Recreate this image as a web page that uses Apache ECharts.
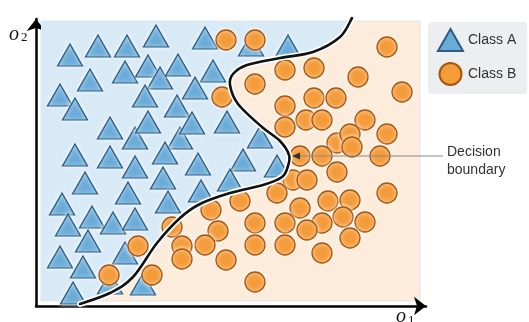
<!DOCTYPE html>
<html><head><meta charset="utf-8">
<script src="https://cdn.jsdelivr.net/npm/echarts/dist/echarts.min.js"></script>
<style>html,body{margin:0;padding:0;background:#fff}#c{width:529px;height:322px}</style>
</head><body><div id="c"></div>
<script>
// Feature-space coordinates (o1, o2)
const classA = [
  [33,250],[61,259],[90,259],[119,269],[168,267],[214,260],[251,259],
  [53,225],[88,233],[111,239],[123,227],[141,240],[176,234],
  [23,210],[38,196],[108,209],[140,199],[158,217],
  [73,177],[98,167],[111,183],[143,167],[155,182],[190,183],[223,168],
  [38,150],[73,148],[98,138],[128,152],[161,141],[206,145],[240,139],
  [48,122],[91,112],[126,127],[193,125],[164,114],
  [25,101],[31,80],[55,88],[76,82],[98,86],[131,103],
  [51,64],[23,48],[88,52],[46,38],[73,22],[106,21],[36,12]
];
const classB = [
  [189,265],[218,265],[350,258],
  [248,235],[277,237],[321,228],[218,221],[365,213],
  [185,208],[277,207],[299,207],[248,199],
  [269,185],[285,185],[328,185],[248,178],[350,171],
  [300,162],[313,171],[315,158],
  [263,149],[285,149],[343,149],
  [300,133],[256,125],[270,125],[350,112],[240,112],
  [203,104],[291,104],[313,105],[263,97],[174,95],
  [306,88],[328,83],[218,82],[248,82],[285,82],[270,75],[181,74],
  [313,67],[168,60],[218,60],[248,60],[285,52],[189,45],[218,23],
  [135,78],[145,59],[145,46],[101,59],[72,30],[115,30]
];
const boundary = [
  [315,287],[303,268],[276,253],[243,247],[210,240],[196,231],[193,220],
  [201,201],[225,178],[243,164],[252,150],[251,139],[245,128],[226,120],
  [193,112],[163,101],[143,87],[120,62],[96,28],[73,12],[43,1]
];
const seriesNames = ['Class A', 'Class B'];
const annotationLine = [[406,149],[255,149]];
const annotationText = 'Decision\nboundary';

const BLUE_BG = '#d9eaf7', ORANGE_BG = '#fdecdb';

function smoothPath(pts) {
  let d = 'M' + pts[0][0] + ' ' + pts[0][1];
  for (let i = 0; i < pts.length - 1; i++) {
    const p0 = pts[i - 1] || pts[i], p1 = pts[i], p2 = pts[i + 1], p3 = pts[i + 2] || pts[i + 1];
    const c1x = p1[0] + (p2[0] - p0[0]) / 6, c1y = p1[1] + (p2[1] - p0[1]) / 6;
    const c2x = p2[0] - (p3[0] - p1[0]) / 6, c2y = p2[1] - (p3[1] - p1[1]) / 6;
    d += ' C' + c1x + ' ' + c1y + ' ' + c2x + ' ' + c2y + ' ' + p2[0] + ' ' + p2[1];
  }
  return d;
}

const chart = echarts.init(document.getElementById('c'), null, {renderer: 'canvas'});
const noAxis = {axisTick:{show:false}, axisLabel:{show:false}, splitLine:{show:false}};
chart.setOption({
  animation: false,
  backgroundColor: '#fff',
  grid: [
    {left: 36, top: 19, right: 103, bottom: 16},
    {left: 41, top: 21, right: 109, bottom: 21, show: true, backgroundColor: ORANGE_BG, borderColor: '#e2e5e8', borderWidth: 1}
  ],
  xAxis: [
    Object.assign({gridIndex: 0, type: 'value', min: 0, max: 1,
      axisLine: {show: true, onZero: false, symbol: ['none', 'arrow'], symbolSize: [14, 12], lineStyle: {color: '#000', width: 2.5}}}, noAxis),
    {gridIndex: 1, type: 'value', min: 4, max: 383, show: false}
  ],
  yAxis: [
    Object.assign({gridIndex: 0, type: 'value', min: 0, max: 1,
      axisLine: {show: true, onZero: false, symbol: ['none', 'arrow'], symbolSize: [14, 12], lineStyle: {color: '#000', width: 2.5}}}, noAxis),
    {gridIndex: 1, type: 'value', min: 4, max: 284, show: false}
  ],
  legend: {
    data: [{name: seriesNames[0], icon: 'triangle'}, {name: seriesNames[1], icon: 'circle'}],
    orient: 'vertical', left: 428, top: 22, itemWidth: 25, itemHeight: 22, itemGap: 10,
    padding: [6, 11, 8, 9], backgroundColor: '#eceef0', borderRadius: 4, selectedMode: false,
    textStyle: {fontSize: 14, color: '#333', fontFamily: 'Liberation Sans'}
  },
  graphic: [
    {type: 'text', left: 447, top: 143, style: {text: annotationText, font: '14px "Liberation Sans"', fill: '#333', lineHeight: 18}},
    {type: 'text', x: 9, y: 35, style: {text: 'o', font: 'italic 20px "Liberation Serif"', fill: '#111', verticalAlign: 'middle'}},
    {type: 'text', x: 21, y: 38, style: {text: '2', font: '13px "Liberation Serif"', fill: '#111', verticalAlign: 'middle'}},
    {type: 'text', x: 396, y: 317, style: {text: 'o', font: 'italic 20px "Liberation Serif"', fill: '#111', verticalAlign: 'middle'}},
    {type: 'text', x: 408, y: 321, style: {text: '1', font: '13px "Liberation Serif"', fill: '#111', verticalAlign: 'middle'}}
  ],
  series: [
    {
      type: 'custom', xAxisIndex: 1, yAxisIndex: 1, clip: true, z: 1, silent: true,
      data: [[0, 0]],
      renderItem: function (params, api) {
        const pts = boundary.map(p => api.coord(p));
        const first = pts[0], last = pts[pts.length - 1];
        let d = smoothPath(pts);
        d += ' L' + last[0] + ' ' + (last[1] + 60) + ' L-60 ' + (last[1] + 60) + ' L-60 ' + (first[1] - 60) + ' L' + first[0] + ' ' + (first[1] - 60) + ' Z';
        return {type: 'path', shape: {pathData: d}, style: {fill: BLUE_BG, stroke: 'none'}};
      }
    },
    {
      name: seriesNames[0], type: 'scatter', xAxisIndex: 1, yAxisIndex: 1, z: 2, clip: false,
      symbol: 'triangle', symbolSize: [25, 22], data: classA,
      itemStyle: {color: '#6aabd8', borderColor: '#2c5e85', borderWidth: 1.3, opacity: 1,
        shadowBlur: 4, shadowColor: 'rgba(255,255,255,0.95)'}
    },
    {
      name: seriesNames[1], type: 'scatter', xAxisIndex: 1, yAxisIndex: 1, z: 3, clip: false,
      symbol: 'circle', symbolSize: 20, data: classB,
      itemStyle: {color: '#f49b3a', borderColor: '#a5560f', borderWidth: 1.3, opacity: 1,
        shadowBlur: 4, shadowColor: 'rgba(255,255,255,0.95)'}
    },
    {
      type: 'custom', xAxisIndex: 1, yAxisIndex: 1, clip: false, z: 4, silent: true,
      data: [[0, 0]],
      renderItem: function (params, api) {
        const d = smoothPath(boundary.map(p => api.coord(p)));
        return {type: 'group', children: [
          {type: 'path', shape: {pathData: d}, style: {fill: 'none', stroke: '#ffffff', lineWidth: 6, lineCap: 'round'}},
          {type: 'path', shape: {pathData: d}, style: {fill: 'none', stroke: '#111111', lineWidth: 2.6, lineCap: 'round'}}
        ]};
      }
    },
    {
      type: 'custom', xAxisIndex: 1, yAxisIndex: 1, clip: false, z: 5, silent: true,
      data: [[0, 0]],
      renderItem: function (params, api) {
        const a = api.coord(annotationLine[0]), b = api.coord(annotationLine[1]);
        return {type: 'group', children: [
          {type: 'line', shape: {x1: a[0], y1: a[1], x2: b[0] + 6, y2: b[1]}, style: {stroke: '#8a8a8a', lineWidth: 1.2}},
          {type: 'polygon', shape: {points: [[b[0], b[1]], [b[0] + 8, b[1] - 3.5], [b[0] + 8, b[1] + 3.5]]}, style: {fill: '#333', stroke: 'none'}}
        ]};
      }
    }
  ]
});
</script>
</body></html>
